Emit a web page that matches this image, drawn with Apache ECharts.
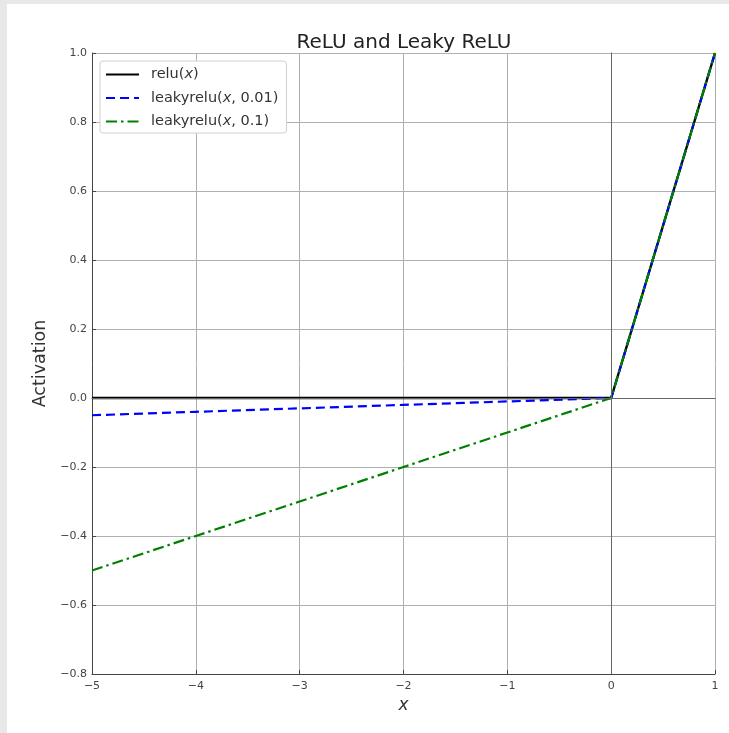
<!DOCTYPE html>
<html>
<head>
<meta charset="utf-8">
<script src="https://cdn.jsdelivr.net/npm/echarts@6/dist/echarts.min.js"></script>
<style>
  body { margin: 0; background: #e8e8e8; }
  #paper { position: absolute; left: 7px; top: 4px; width: 722px; height: 729px; background: #ffffff; }
  #main { position: absolute; left: 0; top: 0; width: 729px; height: 733px; }
</style>
</head>
<body>
<div id="paper"></div>
<div id="main"></div>
<script>
// x points and activations
var xs = [-5, -4, -3, -2, -1, 0, 1];
var relu = [0, 0, 0, 0, 0, 0, 1];
var leaky001 = [-0.05, -0.04, -0.03, -0.02, -0.01, 0, 1];
var leaky01 = [-0.5, -0.4, -0.3, -0.2, -0.1, 0, 1];
var seriesNames = ['relu(x)', 'leakyrelu(x, 0.01)', 'leakyrelu(x, 0.1)'];

function pairs(ys){
  return xs.map(function(x, i){ return [x, ys[i]]; });
}
function minus(s){ return s.replace('-', '\u2212'); }

var myChart = echarts.init(document.getElementById('main'));
var font = 'DejaVu Sans';
var option = {
  backgroundColor: 'transparent',
  animation: false,
  title: {
    text: 'ReLU and Leaky ReLU',
    left: 399,
    top: 28,
    textAlign: 'center',
    textStyle: { fontFamily: font, fontSize: 20, fontWeight: 'normal', color: '#222' }
  },
  grid: { left: 92, right: 14, top: 53, bottom: 59 },
  legend: {
    orient: 'vertical',
    left: 100,
    top: 61,
    padding: [6, 8, 4, 5],
    itemWidth: 33,
    itemHeight: 15,
    itemGap: 8.5,
    borderColor: '#d0d0d0',
    borderWidth: 1,
    borderRadius: 3,
    backgroundColor: '#fff',
    itemStyle: { opacity: 0 },
    data: seriesNames,
    formatter: function(name){
      var m = name.match(/^(\w+)\(x(.*)\)$/);
      return '{n|' + m[1] + '(}{i|x}{n|' + m[2] + ')}';
    },
    textStyle: {
      padding: [0, 0, 0, 7],
      rich: {
        n: { fontFamily: font, fontSize: 14.5, color: '#333' },
        i: { fontFamily: font, fontSize: 14.5, color: '#333', fontStyle: 'italic' }
      }
    }
  },
  xAxis: [{
    type: 'value',
    min: -5, max: 1, interval: 1,
    name: 'x',
    nameLocation: 'middle',
    nameGap: 23,
    nameTextStyle: { fontFamily: font, fontSize: 17, fontStyle: 'italic', color: '#333' },
    axisLine: { onZero: false, lineStyle: { color: '#444', width: 1 } },
    axisTick: { inside: true, length: 4, lineStyle: { color: '#444' } },
    axisLabel: { fontFamily: font, fontSize: 11, color: '#444', margin: 7,
      formatter: function(v){ return minus(String(v)); } },
    splitLine: { show: true, lineStyle: { color: '#b0b0b0', width: 1 } }
  }, {
    type: 'value', position: 'top',
    min: -5, max: 1, interval: 1,
    axisLine: { show: true, lineStyle: { color: '#444', width: 1 } },
    axisTick: { show: false }, axisLabel: { show: false }, splitLine: { show: false }
  }],
  yAxis: [{
    type: 'value',
    min: -0.8, max: 1.0, interval: 0.2,
    name: 'Activation',
    nameLocation: 'middle',
    nameGap: 41,
    nameTextStyle: { fontFamily: font, fontSize: 17.5, color: '#333' },
    axisLine: { onZero: false, lineStyle: { color: '#444', width: 1 } },
    axisTick: { inside: true, length: 4, lineStyle: { color: '#444' } },
    axisLabel: { fontFamily: font, fontSize: 11, color: '#444', margin: 5,
      formatter: function(v){
        var s = Math.abs(v).toFixed(1);
        return (v < -1e-9 ? '\u2212' : '') + s;
      } },
    splitLine: { show: true, lineStyle: { color: '#b0b0b0', width: 1 } }
  }, {
    type: 'value', position: 'right',
    min: -0.8, max: 1.0, interval: 0.2,
    axisLine: { show: true, lineStyle: { color: '#444', width: 1 } },
    axisTick: { show: false }, axisLabel: { show: false }, splitLine: { show: false }
  }],
  series: [
    {
      name: seriesNames[0],
      type: 'line',
      data: pairs(relu),
      symbol: 'none',
      lineStyle: { color: '#000', width: 2.4 },
      itemStyle: { color: '#000' },
      markLine: {
        silent: true,
        symbol: ['none', 'none'],
        label: { show: false },
        lineStyle: { color: '#666', width: 1, type: 'solid' },
        data: [{ xAxis: 0 }, { yAxis: 0 }]
      },
      z: 2
    },
    {
      name: seriesNames[1],
      type: 'line',
      data: pairs(leaky001),
      symbol: 'none',
      lineStyle: { color: '#0000ff', width: 2.2, type: [9, 5] },
      itemStyle: { color: '#0000ff' },
      z: 3
    },
    {
      name: seriesNames[2],
      type: 'line',
      data: pairs(leaky01),
      symbol: 'none',
      lineStyle: { color: '#008000', width: 2.2, type: [11, 4, 2.5, 4] },
      itemStyle: { color: '#008000' },
      z: 4
    }
  ]
};
myChart.setOption(option);
</script>
</body>
</html>
